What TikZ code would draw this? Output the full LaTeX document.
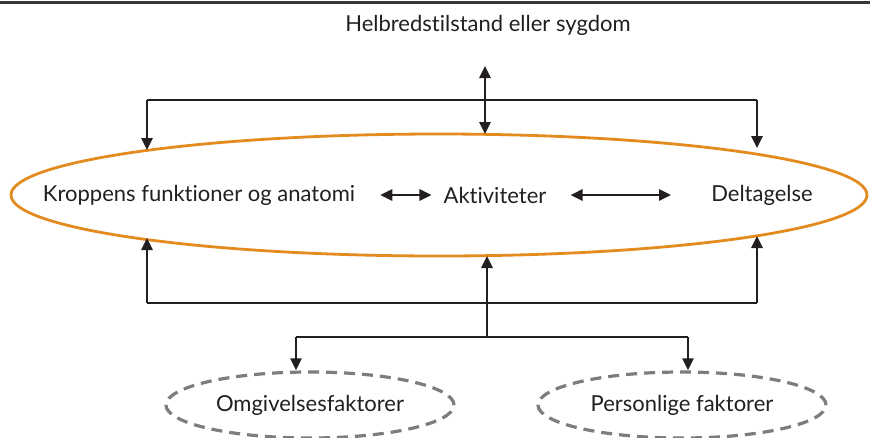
\documentclass[tikz,border=0pt]{standalone}
\usepackage{fontspec}
\setmainfont{Lato}[Ligatures=NoCommon]
\usepackage{tikz}
\usetikzlibrary{arrows.meta, positioning, shapes.geometric}
\definecolor{ink}{HTML}{231F20}
\definecolor{icforange}{HTML}{E38B1F}
\definecolor{factorgray}{HTML}{7D7D7D}

\begin{document}
\begin{tikzpicture}[
  x=1pt, y=-1pt,
  font=\fontsize{22}{26}\selectfont,
  >={Triangle[length=12pt,width=11pt]},
  label/.style={text=ink, inner sep=0pt},
  oval/.style={
    draw=icforange,
    ellipse,
    line width=2.8pt,
    minimum width=856pt,
    minimum height=122pt,
    inner sep=0pt
  },
  factor/.style={
    draw=factorgray,
    ellipse,
    line width=3.2pt,
    dash pattern=on 11pt off 7pt,
    minimum width=288pt,
    minimum height=66pt,
    text=ink
  },
  arr/.style={->, draw=ink, line width=2.6pt},
  dbl/.style={<->, draw=ink, line width=2.6pt},
  link/.style={draw=ink, line width=2pt}
]
\useasboundingbox (0,0) rectangle (870,437);

% rule at the top
\draw[ink!90, line width=2.5pt] (0,2.5) -- (870,2.5);

\node[label] (h) at (488,25) {Helbredstilstand eller sygdom};

\node[oval] (icf) at (439,195) {};

\node[label] (krop) at (199,195) {Kroppens funktioner og anatomi};
\node[label] (akt) at (495,195) {Aktiviteter};
\node[label] (delt) at (762,195) {Deltagelse};

\node[factor] (omg) at (310,405) {Omgivelsesfaktorer};
\node[factor] (pers) at (682,405) {Personlige faktorer};

\draw[dbl, shorten <=25pt, shorten >=12pt] (krop) -- (akt);
\draw[dbl, shorten <=24pt, shorten >=40pt] (akt) -- (delt);

% health condition bracket
\coordinate (hs) at (485,66);
\coordinate (hs-end) at (485,134);
\coordinate (tl) at (147,100);
\coordinate (tr) at (757,100);
\coordinate (tl-end) at (147,150);
\coordinate (tr-end) at (757,148);
\draw[dbl] (hs) -- (hs-end);
\draw[link] (tl) -- (tr);
\draw[arr] (tl) -- (tl-end);
\draw[arr] (tr) -- (tr-end);

% contextual factors bracket
\coordinate (bl) at (147,303);
\coordinate (br) at (757,303);
\coordinate (bl-end) at (147,238);
\coordinate (br-end) at (757,236);
\coordinate (fs) at (487,336);
\coordinate (fs-end) at (487,256);
\coordinate (fl) at (296,337);
\coordinate (fr) at (688,337);
\draw[link] (bl) -- (br);
\draw[arr] (bl) -- (bl-end);
\draw[arr] (br) -- (br-end);
\draw[arr] (fs) -- (fs-end);
\draw[link] (fl) -- (fr);
\draw[arr] (fl) -- (fl |- omg.north);
\draw[arr] (fr) -- (fr |- pers.north);

\end{tikzpicture}
\end{document}
